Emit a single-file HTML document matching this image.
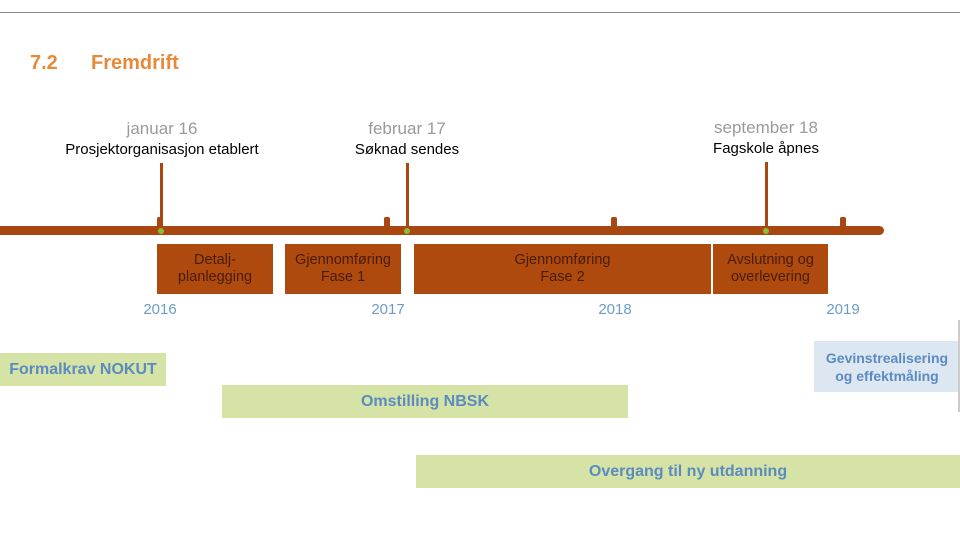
<!DOCTYPE html>
<html><head><meta charset="utf-8"><style>
body{margin:0;width:960px;height:548px;background:#fff;position:relative;overflow:hidden;font-family:"Liberation Sans",sans-serif}
.a{position:absolute}
.box{position:absolute;background:#AE4A0E;color:#4a1c08;font-size:14.5px;line-height:17px;text-align:center;display:flex;align-items:center;justify-content:center;top:244px;height:50px;white-space:nowrap}
.yr{position:absolute;top:301px;color:#6a9cc9;font-size:15px;width:60px;text-align:center}
.g{position:absolute;background:#D5E3A6;color:#5b8bc0;font-weight:bold;font-size:16px;display:flex;align-items:center;justify-content:center;height:33px}
.lab{position:absolute;width:260px;text-align:center;font-size:15px}
.gr{color:#9a9a9a;font-size:17px}
.v{position:absolute;width:3px;background:#A8470F}
.t{position:absolute;width:6px;height:10px;background:#A8470F;top:217px;border-radius:2px 2px 0 0}
.dot{position:absolute;width:6px;height:6px;border-radius:50%;background:#8bbd3a;top:228px}
</style></head><body>
<div class="a" style="left:0;top:12px;width:960px;height:1px;background:#888"></div>
<div class="a" style="left:30px;top:52px;color:#E8893A;font-weight:bold;font-size:20px">7.2</div>
<div class="a" style="left:91px;top:52px;color:#E8893A;font-weight:bold;font-size:20px">Fremdrift</div>

<div class="lab" style="left:32px;top:119px"><span class="gr">januar 16</span><br><span style="line-height:22px">Prosjektorganisasjon etablert</span></div>
<div class="lab" style="left:277px;top:119px"><span class="gr">februar 17</span><br><span style="line-height:22px">Søknad sendes</span></div>
<div class="lab" style="left:636px;top:118px"><span class="gr">september 18</span><br><span style="line-height:22px">Fagskole åpnes</span></div>

<div class="v" style="left:160px;top:163px;height:68px"></div>
<div class="v" style="left:406px;top:163px;height:68px"></div>
<div class="v" style="left:765px;top:162px;height:69px"></div>
<div class="t" style="left:157px"></div>
<div class="t" style="left:384px"></div>
<div class="t" style="left:611px"></div>
<div class="t" style="left:840px"></div>
<div class="a" style="left:0;top:226px;width:884px;height:9px;background:#A8470F;border-radius:0 5px 5px 0"></div>
<div class="dot" style="left:158px"></div>
<div class="dot" style="left:404px"></div>
<div class="dot" style="left:763px"></div>

<div class="box" style="left:157px;width:116px">Detalj-<br>planlegging</div>
<div class="box" style="left:285px;width:116px">Gjennomføring<br>Fase 1</div>
<div class="box" style="left:414px;width:297px">Gjennomføring<br>Fase 2</div>
<div class="box" style="left:713px;width:115px">Avslutning og<br>overlevering</div>

<div class="yr" style="left:130px">2016</div>
<div class="yr" style="left:358px">2017</div>
<div class="yr" style="left:585px">2018</div>
<div class="yr" style="left:813px">2019</div>

<div class="g" style="left:0;top:353px;width:166px">Formalkrav NOKUT</div>
<div class="g" style="left:222px;top:385px;width:406px">Omstilling NBSK</div>
<div class="g" style="left:416px;top:455px;width:544px">Overgang til ny utdanning</div>
<div class="a" style="left:814px;top:341px;width:146px;height:51px;background:#DDE7F2;color:#5b8bc0;font-weight:bold;font-size:14px;line-height:18px;text-align:center;display:flex;align-items:center;justify-content:center;white-space:nowrap;overflow:hidden">Gevinstrealisering<br>og effektmåling</div>
<div class="a" style="left:958px;top:320px;width:2px;height:92px;background:#ccc"></div>
</body></html>
